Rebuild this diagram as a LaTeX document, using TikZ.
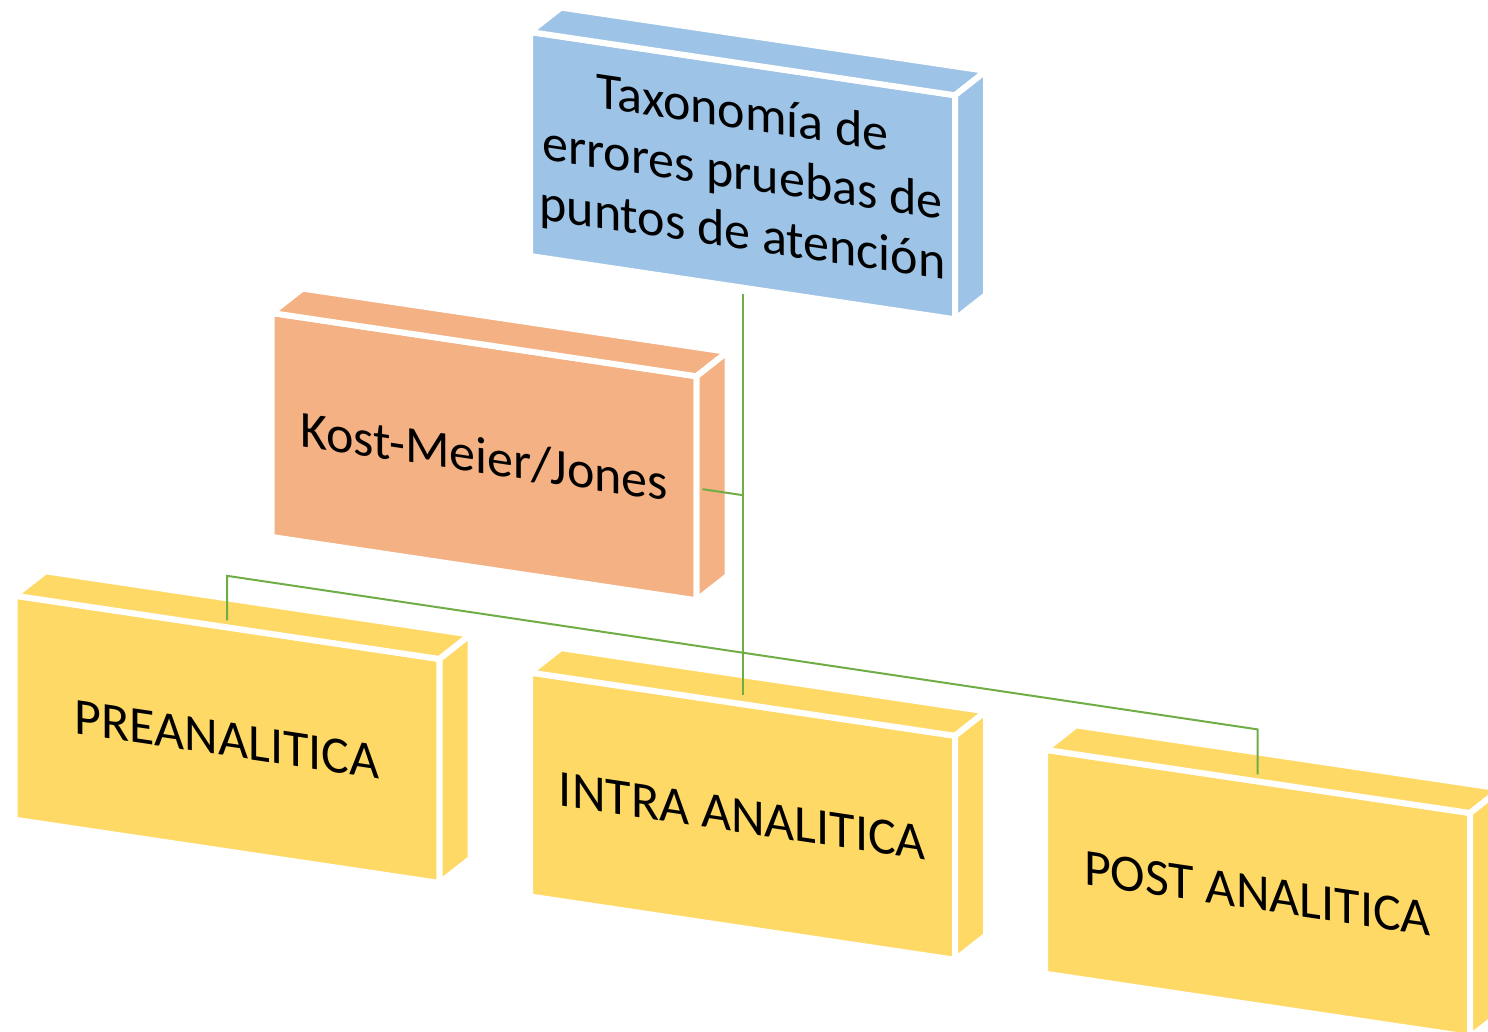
\documentclass[tikz,border=0pt]{standalone}
\usepackage{fontspec}
\setmainfont{Carlito}
\definecolor{boxblue}{HTML}{9DC3E6}
\definecolor{boxorange}{HTML}{F4B183}
\definecolor{boxyellow}{HTML}{FFD966}
\definecolor{linkgreen}{HTML}{70AD47}
\newcommand\sidefaces[2]{%
  \filldraw[fill=#2, draw=white, line width=6pt] (#1.north west) -- (#1.north east) -- ++(31,29) -- ++(-425,0) -- cycle;
  \filldraw[fill=#2, draw=white, line width=6pt] (#1.north east) -- ++(31,29) -- ++(0,-224) -- (#1.south east) -- cycle;
}
\begin{document}
\begin{tikzpicture}[x=1pt,y=1pt,
  frontbox/.style={draw=white, line width=6pt, minimum width=425pt, minimum height=224pt,
    inner sep=0pt, outer sep=0pt, transform shape, align=center,
    font=\fontsize{52}{60}\selectfont},
  conn/.style={draw=linkgreen, line width=2pt}]
\clip (0,0) rectangle (1488,-1032);
\useasboundingbox (0,0) rectangle (1488,-1032);
\begin{scope}[yslant=-0.149]
  \node[frontbox, fill=boxblue] (top) at (742.5,-65) {Taxonomía de\\errores pruebas de\\puntos de atención};
  \node[frontbox, fill=boxorange] (kost) at (484,-384.5) {Kost-Meier/Jones};
  \node[frontbox, fill=boxyellow] (pre) at (227,-705.5) {PREANALITICA};
  \node[frontbox, fill=boxyellow] (intra) at (742.5,-705.5) {INTRA ANALITICA};
  \node[frontbox, fill=boxyellow] (post) at (1257.5,-706) {POST ANALITICA};
  \sidefaces{top}{boxblue}
  \sidefaces{kost}{boxorange}
  \sidefaces{pre}{boxyellow}
  \sidefaces{intra}{boxyellow}
  \sidefaces{post}{boxyellow}
  \coordinate (jk) at (742.5,-384.5);
  \coordinate (jl) at (227,-542);
  \coordinate (jr) at (1257.5,-542);
  \draw[conn, shorten <=6pt, shorten >=9pt] (top.south) -- (intra.north);
  \draw[conn, shorten <=6pt] (kost.east) -- (jk);
  \draw[conn, shorten <=7pt, shorten >=7pt] (pre.north) -- (jl) -- (jr) -- (post.north);
\end{scope}
\end{tikzpicture}
\end{document}
